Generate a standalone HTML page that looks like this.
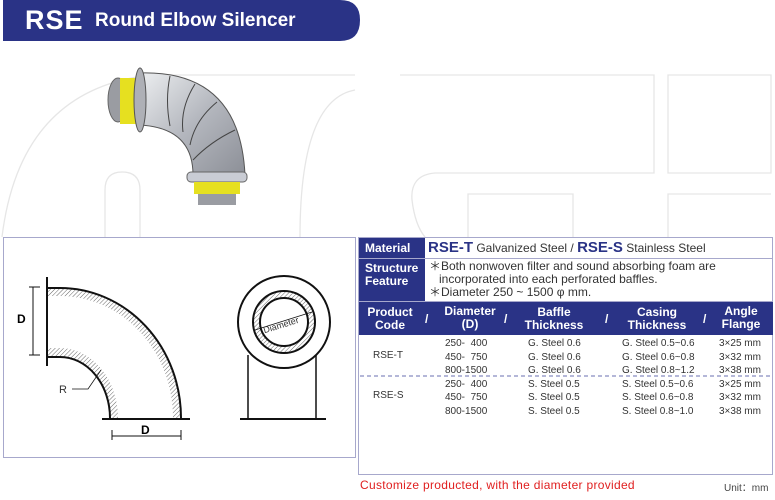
<!DOCTYPE html>
<html><head><meta charset="utf-8"><style>
body{margin:0;width:775px;height:500px;background:#fff;position:relative;overflow:hidden;font-family:"Liberation Sans",Arial,sans-serif}
.a{position:absolute}
.hd{background:#2a3386;color:#fff;font-weight:bold}
.t{font-size:10px;color:#333;white-space:nowrap}
</style></head><body>
<svg class="a" style="left:0;top:0" width="775" height="500">
 <g fill="none" stroke="#e6e6e6" stroke-width="1.3">
  <path d="M2 237 Q20 90 150 75 L355 75"/>
  <path d="M105 237 L105 190 Q105 172 122 172 Q140 172 140 190 L140 237"/>
  <path d="M355 90 Q300 100 300 237"/>
  <path d="M400 75 L654 75 L654 173 L435 173 Q410 175 412 200 Q415 225 425 237"/>
  <path d="M668 75 L771 75 L771 173 L668 173 Z"/>
  <path d="M468 237 L468 194 L573 194 L573 237"/>
  <path d="M668 237 L668 194 L771 194"/>
 </g>
 <path d="M3 0 L340 0 Q360 0 360 20 Q360 41 340 41 L3 41 Z" fill="#2a3386"/>
 <defs>
  <linearGradient id="g" x1="0" y1="0" x2="1" y2="1"><stop offset="0" stop-color="#eceef0"/><stop offset=".5" stop-color="#b4b7be"/><stop offset="1" stop-color="#8c8f97"/></linearGradient>
  <pattern id="h" width="3" height="3" patternUnits="userSpaceOnUse" patternTransform="rotate(45)"><line x1="0" y1="0" x2="0" y2="3" stroke="#555" stroke-width="0.9"/></pattern>
 </defs>
 <path d="M140 73 Q240 70 245 175 L193 175 Q193 128 140 125 Z" fill="url(#g)" stroke="#555" stroke-width="1"/>
 <g stroke="#444" fill="none" stroke-width="1"><path d="M170 76 Q165 100 170 126"/><path d="M195 84 Q180 108 183 132"/><path d="M217 102 Q195 120 190 145"/><path d="M235 130 Q210 142 193 160"/></g>
 <ellipse cx="118" cy="100" rx="10" ry="22" fill="#9a9ca2" stroke="#666"/>
 <rect x="120" y="78" width="18" height="46" fill="#e6e020"/>
 <ellipse cx="140" cy="100" rx="6" ry="32" fill="#aeb0b6" stroke="#555"/>
 <rect x="187" y="172" width="60" height="10" rx="4" fill="#c9ccd4" stroke="#666"/>
 <rect x="194" y="182" width="46" height="12" fill="#e6e020"/>
 <rect x="198" y="194" width="38" height="11" fill="#9a9ca2"/>
 <rect x="3.5" y="237.5" width="352" height="220" fill="#fff" stroke="#a7a8cc"/>
 <g stroke="#111" fill="none">
  <path d="M48 288 L60 288 A121 130 0 0 1 181 418 L173 418 A113 122 0 0 0 60 296 L48 296 Z" fill="url(#h)" stroke="none"/>
  <path d="M48 348 L60 348 A58 70 0 0 1 118 418 L110 418 A50 61 0 0 0 60 357 L48 357 Z" fill="url(#h)" stroke="none"/>
  <path d="M48 288 L60 288 A121 130 0 0 1 181 418" stroke-width="2"/>
  <path d="M48 357 L60 357 A50 61 0 0 1 110 418" stroke-width="2"/>
  <line x1="47" y1="277" x2="47" y2="366" stroke-width="2"/>
  <line x1="102" y1="419" x2="190" y2="419" stroke-width="2"/>
  <line x1="33" y1="287" x2="33" y2="355"/><line x1="29" y1="287" x2="40" y2="287"/><line x1="29" y1="355" x2="40" y2="355"/>
  <line x1="112" y1="436" x2="181" y2="436"/><line x1="112" y1="430" x2="112" y2="440"/><line x1="181" y1="430" x2="181" y2="440"/>
  <path d="M72 389 L88 389 L101 370" stroke-width="0.8"/>
  <circle cx="284" cy="322" r="31" fill="url(#h)" stroke="none"/>
  <circle cx="284" cy="322" r="24" fill="#fff" stroke-width="2"/>
  <circle cx="284" cy="322" r="31" stroke-width="2"/>
  <circle cx="284" cy="322" r="46" stroke-width="2"/>
  <line x1="255" y1="330" x2="312" y2="312" stroke-width="0.8"/>
  <line x1="248" y1="355" x2="248" y2="419" stroke-width="1.5"/><line x1="316" y1="355" x2="316" y2="419" stroke-width="1.5"/>
  <line x1="240" y1="419" x2="326" y2="419" stroke-width="2"/>
 </g>
 <text x="17" y="323" font-family="Liberation Sans" font-weight="bold" font-size="12">D</text>
 <text x="141" y="434" font-family="Liberation Sans" font-weight="bold" font-size="12">D</text>
 <text x="59" y="393" font-family="Liberation Sans" font-size="11" fill="#333">R</text>
 <text x="262" y="327" font-family="Liberation Sans" font-size="9" fill="#333" transform="rotate(-17 284 322)">Diameter</text>
 <rect x="358.5" y="237.5" width="414" height="237" fill="none" stroke="#a7a8cc"/>
 <line x1="358" y1="258.5" x2="773" y2="258.5" stroke="#a7a8cc"/>
 <line x1="358" y1="301.5" x2="773" y2="301.5" stroke="#a7a8cc"/>
 <line x1="360" y1="376" x2="772" y2="376" stroke="#6a6fb0" stroke-dasharray="4,3"/>
</svg>
<div class="a" style="left:25px;top:5px;color:#fff;font-weight:bold;font-size:27px;letter-spacing:1px">RSE</div>
<div class="a" style="left:95px;top:10px;color:#fff;font-weight:bold;font-size:19px">Round Elbow Silencer</div>

<div class="a hd" style="left:359px;top:238px;width:66px;height:20px;font-size:12px;line-height:20px;padding-left:6px;box-sizing:border-box">Material</div>
<div class="a" style="left:428px;top:238px;font-size:12px;line-height:20px;color:#333;white-space:nowrap"><b style="color:#2a3386;font-size:15px">RSE-T</b> Galvanized Steel / <b style="color:#2a3386;font-size:15px">RSE-S</b> Stainless Steel</div>
<div class="a hd" style="left:359px;top:259px;width:66px;height:42px;font-size:12px;line-height:13px;padding:3px 0 0 6px;box-sizing:border-box">Structure<br>Feature</div>
<div class="a" style="left:429px;top:260px;font-size:12px;line-height:13px;color:#333;white-space:nowrap">＊Both nonwoven filter and sound absorbing foam are<br>&nbsp;&nbsp;&nbsp;incorporated into each perforated baffles.<br>＊Diameter 250 ~ 1500 φ mm.</div>
<div class="a hd" style="left:359px;top:302px;width:414px;height:33px;font-size:12px;line-height:13px">
 <div class="a" style="left:0;width:62px;top:4px;text-align:center">Product<br>Code</div>
 <div class="a" style="left:66px;top:11px">/</div>
 <div class="a" style="left:80px;width:62px;top:3px;text-align:center">Diameter<br>(D)</div>
 <div class="a" style="left:145px;top:11px">/</div>
 <div class="a" style="left:155px;width:80px;top:4px;text-align:center">Baffle<br>Thickness</div>
 <div class="a" style="left:246px;top:11px">/</div>
 <div class="a" style="left:256px;width:84px;top:4px;text-align:center">Casing<br>Thickness</div>
 <div class="a" style="left:344px;top:11px">/</div>
 <div class="a" style="left:352px;width:60px;top:3px;text-align:center">Angle<br>Flange</div>
</div>
<div class="a t" style="left:373px;top:350px">RSE-T</div>
<div class="a t" style="left:373px;top:390px">RSE-S</div>
<div class="a t" style="left:445px;top:337px;line-height:13.5px">250-&nbsp; 400<br>450-&nbsp; 750<br>800-1500<br>250-&nbsp; 400<br>450-&nbsp; 750<br>800-1500</div>
<div class="a t" style="left:528px;top:337px;line-height:13.5px">G. Steel 0.6<br>G. Steel 0.6<br>G. Steel 0.6<br>S. Steel 0.5<br>S. Steel 0.5<br>S. Steel 0.5</div>
<div class="a t" style="left:622px;top:337px;line-height:13.5px">G. Steel 0.5~0.6<br>G. Steel 0.6~0.8<br>G. Steel 0.8~1.2<br>S. Steel 0.5~0.6<br>S. Steel 0.6~0.8<br>S. Steel 0.8~1.0</div>
<div class="a t" style="left:719px;top:337px;line-height:13.5px">3×25 mm<br>3×32 mm<br>3×38 mm<br>3×25 mm<br>3×32 mm<br>3×38 mm</div>
<div class="a" style="left:360px;top:478px;font-size:12px;color:#e02020;letter-spacing:0.3px">Customize producted, with the diameter provided</div>
<div class="a" style="left:724px;top:479px;font-size:10px;color:#444">Unit：mm</div>
</body></html>
